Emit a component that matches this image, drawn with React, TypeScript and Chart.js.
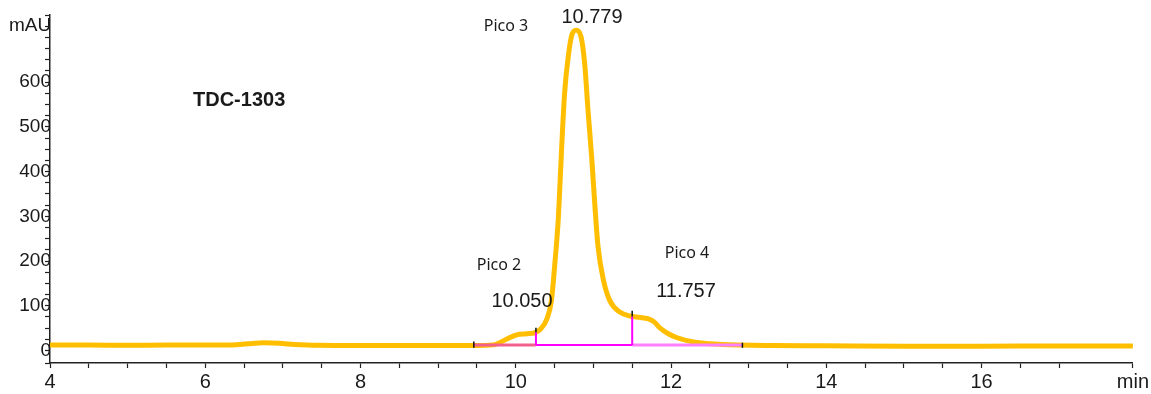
import React, { useEffect, useRef } from 'react';
import { Chart, registerables } from 'chart.js';

Chart.register(...registerables);

// Chromatogram signal (min, mAU)
const TIMES = [
  4.0, 4.5, 5.0, 5.5, 6.0, 6.35, 6.55, 6.75, 6.95, 7.15, 7.45, 8.0, 8.5, 9.0, 9.46,
  9.71, 9.88, 10.01, 10.14, 10.25, 10.32, 10.40, 10.46, 10.50, 10.55, 10.59, 10.63,
  10.68, 10.72, 10.779, 10.84, 10.89, 10.93, 10.98, 11.02, 11.06, 11.13, 11.21, 11.34,
  11.47, 11.60, 11.70, 11.78, 11.86, 11.96, 12.07, 12.29, 12.50, 12.89, 13.3, 14.0,
  15.0, 16.0, 17.0, 17.95,
];
const SIGNAL = [
  12, 12, 11.5, 12, 12, 12.5, 15, 17, 16, 13.5, 11.5, 11, 11, 11, 11,
  12.5, 25, 35, 37.5, 40, 48, 70, 112, 187, 300, 449, 577,
  662, 704, 716, 702, 637, 539, 427, 322, 232, 157, 112, 86,
  77, 74, 71, 64, 50, 38, 29, 19, 15, 12, 11, 10.5,
  9.5, 9.5, 10, 10,
];

// Integration baseline and drop lines
const BASE_X = [9.46, 10.26, 11.5, 12.92];
const BASE_Y = [12.5, 12.5, 12.5, 12.5];
const DROP_X = [10.26, 11.5];
const DROP_TOP = [41, 76];
const MARK_X = [9.46, 10.26, 11.5, 12.92];
const MARK_LOW = [6, 41, 76, 6];
const MARK_HIGH = [20, 51, 89, 17];

// Labels
const PEAK_NAMES = ['Pico 2', 'Pico 3', 'Pico 4'];
const PEAK_RT = ['10.050', '10.779', '11.757'];
const SAMPLE = 'TDC-1303';
const Y_UNIT = 'mAU';
const X_UNIT = 'min';
const X_MIN = 4;
const X_MAX = 17.95;
const Y_MIN = -28;
const Y_MAX = 750;
const Y_LABEL_MAX = 600;

export default function App() {
  const ref = useRef<HTMLCanvasElement>(null);

  useEffect(() => {
    const canvas = ref.current;
    if (!canvas) return;

    const signal = TIMES.map((t, i) => ({ x: t, y: SIGNAL[i] }));
    const seg = (i: number) => [
      { x: BASE_X[i], y: BASE_Y[i] },
      { x: BASE_X[i + 1], y: BASE_Y[i + 1] },
    ];
    const drops: any[] = [];
    DROP_X.forEach((x, i) => {
      drops.push({ x, y: BASE_Y[0] }, { x, y: DROP_TOP[i] }, { x, y: null });
    });
    const marks: any[] = [];
    MARK_X.forEach((x, i) => {
      marks.push({ x, y: MARK_LOW[i] }, { x, y: MARK_HIGH[i] }, { x, y: null });
    });

    const textPlugin = {
      id: 'texts',
      afterDraw(chart: any) {
        const c = chart.ctx as CanvasRenderingContext2D;
        c.save();
        c.fillStyle = '#1a1a1a';
        c.textBaseline = 'middle';
        c.textAlign = 'left';
        c.font = '19px "Liberation Sans", Arial, sans-serif';
        c.fillText(Y_UNIT, 9, 26);
        c.font = 'bold 20px "Liberation Sans", Arial, sans-serif';
        c.fillText(SAMPLE, 193, 100);
        c.textAlign = 'center';
        c.font = '16px "Noto Sans", sans-serif';
        c.fillText(PEAK_NAMES[0], 499, 265);
        c.fillText(PEAK_NAMES[1], 506, 26);
        c.fillText(PEAK_NAMES[2], 687, 253);
        c.font = '20px "Liberation Sans", Arial, sans-serif';
        c.fillText(PEAK_RT[0], 522, 301);
        c.fillText(PEAK_RT[1], 592, 17);
        c.fillText(PEAK_RT[2], 686, 291);
        c.restore();
      },
    };

    const lineDefaults = {
      pointRadius: 0,
      fill: false,
      tension: 0,
    };

    const chart = new Chart(canvas, {
      type: 'line',
      data: {
        datasets: [
          { ...lineDefaults, data: marks, borderColor: '#111', borderWidth: 1.5, order: 0, spanGaps: false },
          { ...lineDefaults, data: drops, borderColor: '#ff00ff', borderWidth: 2, order: 1, spanGaps: false },
          { ...lineDefaults, data: seg(0), borderColor: '#f4608c', borderWidth: 3, order: 2 },
          { ...lineDefaults, data: seg(1), borderColor: '#ff00ff', borderWidth: 2, order: 2 },
          { ...lineDefaults, data: seg(2), borderColor: '#ff80ff', borderWidth: 3, order: 2 },
          {
            ...lineDefaults,
            data: signal,
            borderColor: '#ffbf00',
            borderWidth: 5,
            cubicInterpolationMode: 'monotone',
            order: 3,
          },
        ],
      },
      plugins: [textPlugin],
      options: {
        animation: false,
        responsive: false,
        events: [],
        layout: { padding: { left: 0, right: 18, top: 15, bottom: 0 } },
        plugins: { legend: { display: false }, tooltip: { enabled: false } },
        scales: {
          x: {
            type: 'linear',
            min: X_MIN,
            max: X_MAX,
            afterFit: (s: any) => { s.height = 31; },
            border: { display: true, color: '#222', width: 1.5 },
            grid: { drawOnChartArea: false, drawTicks: true, tickLength: 5, tickColor: '#222', tickWidth: 1.2 },
            ticks: {
              stepSize: 0.5,
              autoSkip: false,
              maxRotation: 0,
              padding: 2,
              color: '#1a1a1a',
              font: { family: '"Liberation Sans", Arial, sans-serif', size: 20 },
              callback: (v: any) => {
                const n = Number(v);
                if (n >= X_MAX - 0.01) return X_UNIT;
                const r = Math.round(n);
                return Math.abs(n - r) < 1e-6 && r % 2 === 0 ? String(r) : '';
              },
            },
          },
          y: {
            type: 'linear',
            min: Y_MIN,
            max: Y_MAX,
            afterFit: (s: any) => { s.width = 50; },
            border: { display: true, color: '#222', width: 1.5 },
            grid: { drawOnChartArea: false, drawTicks: true, tickLength: 5, tickColor: '#222', tickWidth: 1.2 },
            ticks: {
              stepSize: 25,
              autoSkip: false,
              padding: -6,
              color: '#1a1a1a',
              font: { family: '"Liberation Sans", Arial, sans-serif', size: 19 },
              callback: (v: any) => {
                const n = Number(v);
                return n >= 0 && n <= Y_LABEL_MAX && Math.abs(n % 100) < 1e-6 ? String(n) : '';
              },
            },
          },
        },
      },
    } as any);

    return () => chart.destroy();
  }, []);

  return (
    <div style={{ position: 'absolute', left: 0, top: 0, width: 1151, height: 394, background: '#fff' }}>
      <canvas ref={ref} width={1151} height={394} style={{ display: 'block' }} />
    </div>
  );
}
